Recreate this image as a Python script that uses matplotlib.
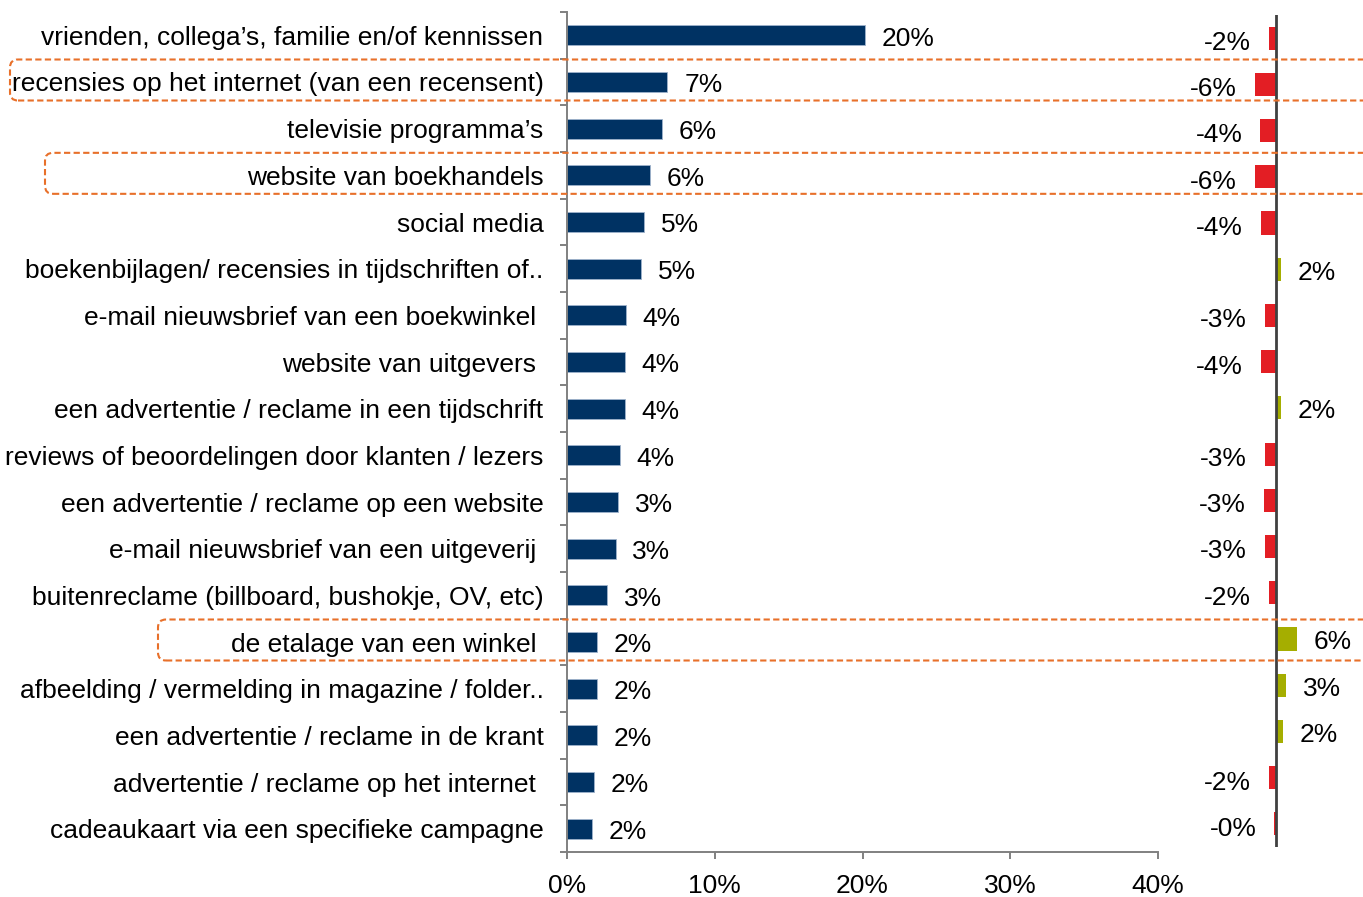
import matplotlib
matplotlib.use("Agg")
import matplotlib.pyplot as plt
from matplotlib.patches import FancyBboxPatch
from matplotlib.transforms import IdentityTransform
from matplotlib.ticker import FixedLocator

# ---------------- data ----------------
categories = [
    "vrienden, collega’s, familie en/of kennissen",
    "recensies op het internet (van een recensent)",
    "televisie programma’s",
    "website van boekhandels",
    "social media",
    "boekenbijlagen/ recensies in tijdschriften of..",
    "e-mail nieuwsbrief van een boekwinkel ",
    "website van uitgevers ",
    "een advertentie / reclame in een tijdschrift",
    "reviews of beoordelingen door klanten / lezers",
    "een advertentie / reclame op een website",
    "e-mail nieuwsbrief van een uitgeverij ",
    "buitenreclame (billboard, bushokje, OV, etc)",
    "de etalage van een winkel ",
    "afbeelding / vermelding in magazine / folder..",
    "een advertentie / reclame in de krant",
    "advertentie / reclame op het internet ",
    "cadeaukaart via een specifieke campagne",
]
share = [20.2, 6.8, 6.4, 5.6, 5.2, 5.0, 4.0, 3.9, 3.9, 3.6, 3.45, 3.3, 2.7,
         2.0, 2.0, 2.0, 1.8, 1.7]
change = [-2.0, -6.0, -4.4, -6.0, -4.2, 1.6, -3.0, -4.2, 1.6, -3.0, -3.4, -3.0,
          -2.0, 6.0, 3.0, 2.0, -2.0, -0.4]
highlighted = ["recensies op het internet (van een recensent)",
               "website van boekhandels",
               "de etalage van een winkel "]
xticks = [0, 10, 20, 30, 40]

# ---------------- style ----------------
W, H = 1363, 897
NAVY = "#003263"
RED = "#E31E24"
OLIVE = "#A5AE00"
ORANGE = "#E8702A"
GREY = "#808080"
FS = 19
box_left_px = {1: 10, 3: 45, 13: 158}

plt.rcParams["font.family"] = ["Liberation Sans", "DejaVu Sans"]

fig = plt.figure(figsize=(W / 100, H / 100), dpi=100)
ax = fig.add_axes([567 / W, 1 - 852 / H, (1158 - 567) / W, (852 - 12) / H])
ax2 = fig.add_axes([1150 / W, 1 - 847 / H, 213 / W, (847 - 15) / H])

n = len(categories)
ypos = list(range(n))

# left panel
ax.barh(ypos, share, height=0.43, color=NAVY, edgecolor="#9FB3CC", linewidth=0.6)
ax.set_xlim(0, 40)
ax.set_ylim(n - 0.5, -0.5)
for s in ["top", "right"]:
    ax.spines[s].set_visible(False)
for s in ["left", "bottom"]:
    ax.spines[s].set_color(GREY)
    ax.spines[s].set_linewidth(1.4)
ax.set_xticks(xticks)
ax.set_xticklabels([f"{t}%" for t in xticks], fontsize=FS)
ax.tick_params(axis="x", direction="out", length=5, width=1.4, color=GREY, pad=11)
ax.set_yticks(ypos)
ax.set_yticklabels(categories, fontsize=FS)
ax.tick_params(axis="y", which="major", length=0, pad=17)
ax.yaxis.set_minor_locator(FixedLocator([i - 0.5 for i in range(n + 1)]))
ax.tick_params(axis="y", which="minor", direction="out", length=5, width=1.4, color=GREY)

for yi, v in zip(ypos, share):
    ax.annotate(f"{v:.0f}%", xy=(v, yi), xytext=(12, -2.5), textcoords="offset points",
                ha="left", va="center", fontsize=FS)

# right panel
ax2.barh(ypos, change, height=0.5,
         color=[RED if c < 0 else OLIVE for c in change], linewidth=0)
ax2.set_xlim(-36, 25)
ax2.set_ylim(n - 0.5, -0.5)
ax2.axis("off")
ax2.axvline(0, color="#404040", linewidth=2)
for yi, c in zip(ypos, change):
    if c < 0:
        ax2.annotate(f"{c:.0f}%", xy=(c, yi), xytext=(-13, -3.5), textcoords="offset points",
                     ha="right", va="center", fontsize=FS)
    else:
        ax2.annotate(f"{c:.0f}%", xy=(c, yi), xytext=(12, -2.5), textcoords="offset points",
                     ha="left", va="center", fontsize=FS)

# highlight boxes
for name in highlighted:
    idx = categories.index(name)
    yc = ax.transData.transform((0, idx))[1] + 2
    x0 = box_left_px[idx]
    h = 41
    patch = FancyBboxPatch((x0, yc - h / 2), 1420 - x0, h,
                           boxstyle="round,pad=0,rounding_size=8",
                           transform=IdentityTransform(), fill=False,
                           edgecolor=ORANGE, linewidth=1.5,
                           linestyle=(0, (3, 1.6)), clip_on=False, zorder=5)
    fig.add_artist(patch)

fig.savefig("out.png", dpi=100)
